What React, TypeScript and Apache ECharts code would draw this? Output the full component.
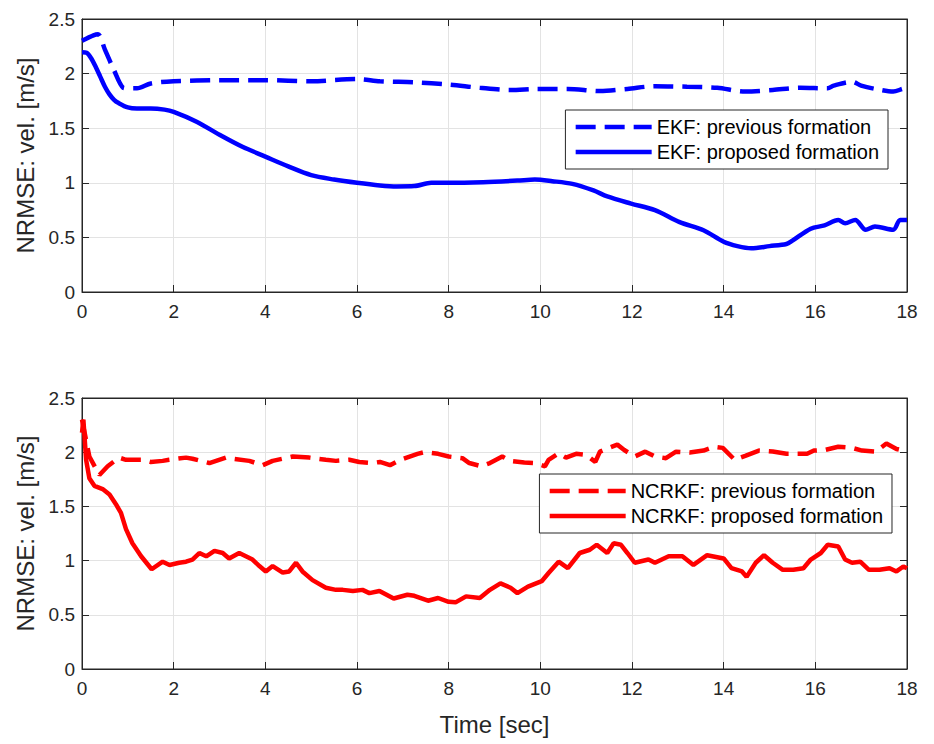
import React, { useEffect, useRef } from "react";
import * as echarts from "echarts";

const xTicks = [0, 2, 4, 6, 8, 10, 12, 14, 16, 18];
const yTicks = [0, 0.5, 1, 1.5, 2, 2.5];

const ekfPrevious: [number, number][] = [
  [0, 2.3], [0.25, 2.35], [0.35, 2.36], [0.5, 2.22], [0.7, 2.03], [0.9, 1.87], [1.0, 1.865], [1.2, 1.865],
  [1.5, 1.91], [2.0, 1.93], [3, 1.94], [4, 1.94], [5, 1.93], [6, 1.95], [6.5, 1.93], [7.25, 1.92],
  [8, 1.9], [8.68, 1.87], [9.35, 1.85], [9.95, 1.86], [10.6, 1.86], [11.3, 1.84], [11.9, 1.86],
  [12.5, 1.885], [13.2, 1.88], [13.86, 1.87], [14.47, 1.835], [15.07, 1.85], [15.67, 1.87], [16.27, 1.865],
  [16.4, 1.89], [16.8, 1.925], [17.0, 1.89], [17.3, 1.86], [17.7, 1.835], [17.9, 1.86], [18, 1.87],
];

const ekfProposed: [number, number][] = [
  [0, 2.195], [0.1, 2.19], [0.2, 2.14], [0.3, 2.06], [0.4, 1.97], [0.5, 1.88], [0.6, 1.81], [0.7, 1.76], [0.8, 1.73],
  [1.0, 1.69], [1.2, 1.68], [1.5, 1.68], [1.8, 1.67], [2.0, 1.65], [2.5, 1.56], [3.0, 1.44], [3.5, 1.33],
  [4.0, 1.24], [4.5, 1.15], [5.0, 1.07], [5.5, 1.03], [6.0, 1.0], [6.5, 0.976], [6.87, 0.967], [7.25, 0.97],
  [7.62, 1.0], [8, 1.0], [8.75, 1.006], [9.5, 1.02], [9.88, 1.03], [10.26, 1.015], [10.7, 0.99],
  [11.16, 0.93], [11.46, 0.875], [11.98, 0.81], [12.5, 0.75], [13.04, 0.64], [13.56, 0.565], [14.0, 0.46],
  [14.3, 0.42], [14.6, 0.4], [15.0, 0.42], [15.37, 0.44], [15.5, 0.47], [15.9, 0.58], [16.2, 0.61],
  [16.5, 0.66], [16.65, 0.63], [16.87, 0.66], [17.1, 0.57], [17.3, 0.6], [17.7, 0.57], [17.85, 0.66], [18, 0.66],
];

const ncrkfPrevious: [number, number][] = [
  [0, 2.3], [0.16, 1.96], [0.38, 1.79], [0.56, 1.87], [0.81, 1.95], [0.96, 1.93], [1.32, 1.93], [1.5, 1.91],
  [1.76, 1.92], [1.9, 1.93], [2.27, 1.95], [2.41, 1.94], [2.78, 1.9], [3.14, 1.95], [3.29, 1.94], [3.65, 1.92],
  [3.94, 1.88], [4.16, 1.92], [4.6, 1.96], [4.96, 1.95], [5.32, 1.93], [5.54, 1.92], [5.83, 1.93], [6.05, 1.91],
  [6.34, 1.9], [6.5, 1.91], [6.72, 1.88], [6.95, 1.93], [7.32, 1.985], [7.47, 2.0], [7.77, 1.985], [8.0, 1.96],
  [8.3, 1.945], [8.45, 1.9], [8.71, 1.87], [8.9, 1.9], [9.17, 1.96], [9.35, 1.92], [9.65, 1.905], [9.88, 1.9],
  [10.1, 1.87], [10.18, 1.93], [10.4, 1.99], [10.56, 1.95], [10.78, 1.985], [11.0, 1.975], [11.2, 1.91],
  [11.3, 2.005], [11.5, 2.04], [11.68, 2.07], [11.83, 2.02], [12.06, 1.96], [12.29, 2.005], [12.5, 1.96],
  [12.74, 1.945], [12.96, 2.005], [13.26, 1.997], [13.56, 2.015], [13.79, 2.05], [13.98, 2.04], [14.24, 1.93],
  [14.47, 1.966], [14.77, 2.015], [15.07, 2.006], [15.37, 1.985], [15.6, 1.985], [15.82, 1.985], [15.97, 2.015],
  [16.2, 2.02], [16.5, 2.05], [16.8, 2.04], [17.02, 2.015], [17.32, 2.006], [17.55, 2.08], [17.77, 2.03], [18.0, 2.006],
];

const ncrkfProposed: [number, number][] = [
  [0, 2.18], [0.03, 2.3], [0.09, 1.93], [0.16, 1.76], [0.27, 1.69], [0.45, 1.66], [0.6, 1.61], [0.74, 1.52],
  [0.85, 1.44], [0.96, 1.29], [1.1, 1.16], [1.29, 1.04], [1.52, 0.92], [1.76, 0.99], [1.91, 0.96], [2.12, 0.98],
  [2.27, 0.99], [2.41, 1.01], [2.56, 1.07], [2.71, 1.04], [2.89, 1.09], [3.07, 1.07], [3.21, 1.02], [3.43, 1.07],
  [3.72, 1.01], [3.87, 0.95], [4.01, 0.9], [4.16, 0.95], [4.38, 0.89], [4.52, 0.9], [4.67, 0.98], [4.81, 0.9],
  [5.03, 0.82], [5.32, 0.75], [5.54, 0.73], [5.69, 0.73], [5.91, 0.72], [6.12, 0.73], [6.27, 0.7], [6.49, 0.72],
  [6.8, 0.65], [7.1, 0.685], [7.25, 0.675], [7.55, 0.63], [7.77, 0.655], [8.0, 0.62], [8.15, 0.615], [8.38, 0.67],
  [8.68, 0.655], [8.9, 0.73], [9.13, 0.79], [9.35, 0.75], [9.5, 0.7], [9.73, 0.76], [10.03, 0.81], [10.18, 0.885],
  [10.4, 0.99], [10.6, 0.93], [10.86, 1.07], [11.08, 1.1], [11.23, 1.146], [11.46, 1.07], [11.6, 1.16],
  [11.76, 1.146], [11.9, 1.07], [12.06, 0.98], [12.36, 1.01], [12.5, 0.98], [12.8, 1.04], [13.1, 1.04],
  [13.34, 0.96], [13.64, 1.05], [14.0, 1.02], [14.17, 0.93], [14.4, 0.9], [14.5, 0.85], [14.7, 0.98],
  [14.88, 1.05], [15.07, 0.98], [15.29, 0.915], [15.52, 0.915], [15.74, 0.93], [15.9, 1.01], [16.12, 1.07],
  [16.27, 1.146], [16.5, 1.13], [16.65, 1.01], [16.8, 0.98], [16.98, 0.99], [17.17, 0.915], [17.4, 0.915],
  [17.62, 0.93], [17.77, 0.9], [17.92, 0.946], [18, 0.93],
];

const legendTop = ["EKF: previous formation", "EKF: proposed formation"];
const legendBottom = ["NCRKF: previous formation", "NCRKF: proposed formation"];

const FONT = "Liberation Sans, Arial, Helvetica, sans-serif";
const AX = "#262626";

export default function App() {
  const ref = useRef<HTMLDivElement>(null);
  useEffect(() => {
    if (!ref.current) return;
    const chart = echarts.init(ref.current, undefined, { renderer: "svg" });
    const grids = [
      { left: 82, right: 27, top: 19, height: 273 },
      { left: 82, right: 27, top: 398, height: 271 },
    ];
    const xAxes: any[] = [];
    const yAxes: any[] = [];
    grids.forEach((_, gi) => {
      const base = {
        gridIndex: gi,
        type: "value",
        min: xTicks[0],
        max: xTicks[xTicks.length - 1],
        interval: xTicks[1] - xTicks[0],
        axisLine: { show: true, onZero: false, lineStyle: { color: AX, width: 1 } },
        axisTick: { show: true, inside: true, length: 7, lineStyle: { color: AX } },
      };
      xAxes.push({
        ...base,
        position: "bottom",
        axisLabel: { show: true, fontSize: 19, color: AX, fontFamily: FONT, margin: 10 },
        splitLine: { show: true, lineStyle: { color: "#e3e3e3", width: 1 } },
        name: gi === 1 ? "Time [sec]" : "",
        nameLocation: "middle",
        nameGap: 43,
        nameTextStyle: { fontSize: 24, color: AX, fontFamily: FONT },
      });
      xAxes.push({
        ...base,
        position: "top",
        axisLabel: { show: false },
        splitLine: { show: false },
      });
      const ybase = {
        gridIndex: gi,
        type: "value",
        min: yTicks[0],
        max: yTicks[yTicks.length - 1],
        interval: yTicks[1] - yTicks[0],
        axisLine: { show: true, onZero: false, lineStyle: { color: AX, width: 1 } },
        axisTick: { show: true, inside: true, length: 7, lineStyle: { color: AX } },
      };
      yAxes.push({
        ...ybase,
        position: "left",
        axisLabel: { show: true, fontSize: 19, color: AX, fontFamily: FONT, margin: 7 },
        splitLine: { show: true, lineStyle: { color: "#e3e3e3", width: 1 } },
        name: "NRMSE: vel. [m/s]",
        nameLocation: "middle",
        nameGap: 45,
        nameTextStyle: { fontSize: 24, color: AX, fontFamily: FONT },
      });
      yAxes.push({
        ...ybase,
        position: "right",
        axisLabel: { show: false },
        splitLine: { show: false },
      });
    });
    const dash = [20, 9];
    const mk = (name: string, data: [number, number][], gi: number, color: string, dashed: boolean, smooth: boolean) => ({
      name,
      type: "line",
      xAxisIndex: gi * 2,
      yAxisIndex: gi * 2,
      data,
      showSymbol: false,
      symbol: "none",
      smooth: smooth ? 0.3 : false,
      lineStyle: { color, width: 4.5, type: dashed ? dash : "solid" },
      itemStyle: { color },
    });
    const legendCommon = {
      orient: "vertical",
      backgroundColor: "#ffffff",
      borderColor: AX,
      borderWidth: 1,
      borderRadius: 0,
      itemWidth: 76,
      itemHeight: 20,
      itemGap: 5,
      padding: [7, 9, 7, 8],
      itemStyle: { opacity: 0 },
      lineStyle: { width: 4.5 },
      textStyle: { fontSize: 20, color: "#000", fontFamily: FONT },
    };
    chart.setOption({
      animation: false,
      backgroundColor: "#ffffff",
      grid: grids.map((g) => ({ ...g, show: true, borderColor: AX, borderWidth: 1 })),
      xAxis: xAxes,
      yAxis: yAxes,
      legend: [
        { ...legendCommon, data: legendTop, right: 46, top: 110 },
        { ...legendCommon, data: legendBottom, right: 42, top: 474 },
      ],
      series: [
        mk(legendTop[0], ekfPrevious, 0, "#0000ff", true, true),
        mk(legendTop[1], ekfProposed, 0, "#0000ff", false, true),
        mk(legendBottom[0], ncrkfPrevious, 1, "#ff0000", true, false),
        mk(legendBottom[1], ncrkfProposed, 1, "#ff0000", false, false),
      ],
    });
    return () => chart.dispose();
  }, []);
  return <div ref={ref} style={{ width: 934, height: 744, position: "absolute", left: 0, top: 0 }} />;
}
